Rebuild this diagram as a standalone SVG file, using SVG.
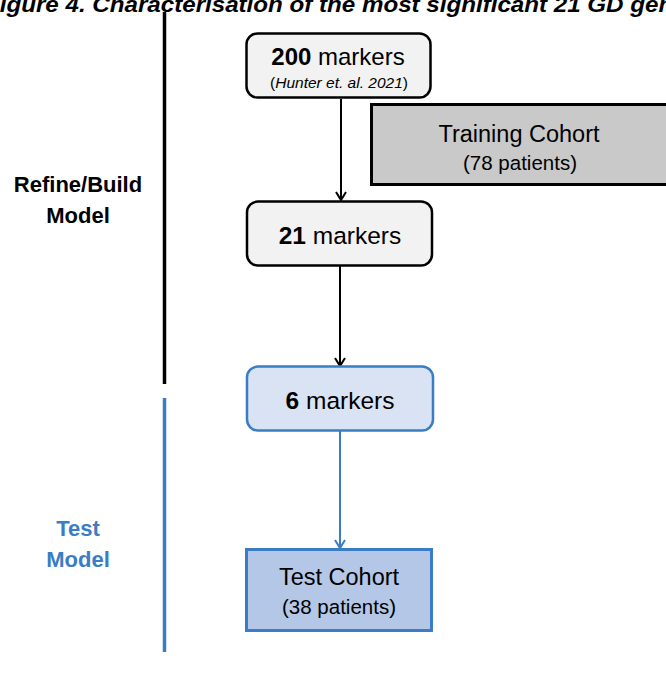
<svg xmlns="http://www.w3.org/2000/svg" width="666" height="682" viewBox="0 0 666 682">
  <style>
    .lbl { font-family: "Liberation Sans", "Open Sans", sans-serif; fill: #000; text-anchor: middle; }
    .side { font-family: "Liberation Sans", sans-serif; font-weight: bold; font-size: 22px; text-anchor: middle; }
    .grey { fill: #f2f2f2; stroke: #000; stroke-width: 2.5; }
    .blue { fill: #dae3f3; stroke: #3b7dc4; stroke-width: 2.5; }
    .conn-k { stroke: #000; stroke-width: 2; fill: none; }
    .conn-b { stroke: #3b7dc4; stroke-width: 2; fill: none; }
  </style>
  <defs>
    <marker id="arrK" markerWidth="12" markerHeight="12" refX="10" refY="6" orient="auto" markerUnits="userSpaceOnUse">
      <path d="M2,1 L10,6 L2,11" fill="none" stroke="#000" stroke-width="2"/>
    </marker>
    <marker id="arrB" markerWidth="12" markerHeight="12" refX="10" refY="6" orient="auto" markerUnits="userSpaceOnUse">
      <path d="M2,1 L10,6 L2,11" fill="none" stroke="#3b7dc4" stroke-width="2"/>
    </marker>
  </defs>
  <rect width="666" height="682" fill="#fff"/>

  <!-- caption, running past the top and side edges -->
  <text x="-15" y="12" textLength="715" lengthAdjust="spacingAndGlyphs" font-family="Liberation Sans, sans-serif" font-weight="bold" font-style="italic" font-size="22" fill="#000">Figure 4. Characterisation of the most significant 21 GD genes</text>

  <!-- phase bars -->
  <g id="phase-build">
    <line x1="164.5" y1="12" x2="164.5" y2="384" stroke="#000" stroke-width="3.5"/>
    <text class="side" x="78" y="192" fill="#000">Refine/Build</text>
    <text class="side" x="78" y="223" fill="#000">Model</text>
  </g>
  <g id="phase-test">
    <line x1="164.5" y1="398" x2="164.5" y2="652" stroke="#3b7dc4" stroke-width="3.5"/>
    <text class="side" x="78" y="536" fill="#3b7dc4">Test</text>
    <text class="side" x="78" y="567" fill="#3b7dc4">Model</text>
  </g>

  <!-- connectors -->
  <g id="connectors">
    <line class="conn-k" x1="341" y1="99" x2="341" y2="200" marker-end="url(#arrK)"/>
    <line class="conn-k" x1="340" y1="266" x2="340" y2="366" marker-end="url(#arrK)"/>
    <line class="conn-b" x1="340" y1="431" x2="340" y2="548" marker-end="url(#arrB)"/>
  </g>

  <g id="n200">
    <rect class="grey" x="246.5" y="33.5" width="184" height="64" rx="11"/>
    <text class="lbl" x="338" y="65" font-size="24"><tspan font-weight="bold">200</tspan> markers</text>
    <text class="lbl" x="339" y="88" font-size="15.5">(<tspan font-style="italic">Hunter et. al. 2021</tspan>)</text>
  </g>

  <g id="training">
    <rect x="371.5" y="104.5" width="300" height="80" fill="#c9c9c9" stroke="#000" stroke-width="3"/>
    <text class="lbl" x="519" y="142" font-size="23.5">Training Cohort</text>
    <text class="lbl" x="520" y="170" font-size="20.5">(78 patients)</text>
  </g>

  <g id="n21">
    <rect class="grey" x="247" y="201.5" width="185" height="64" rx="11"/>
    <text class="lbl" x="340" y="244" font-size="24.5"><tspan font-weight="bold">21</tspan> markers</text>
  </g>

  <g id="n6">
    <rect class="blue" x="247" y="366.5" width="186" height="64" rx="11"/>
    <text class="lbl" x="340" y="409" font-size="24.5"><tspan font-weight="bold">6</tspan> markers</text>
  </g>

  <g id="test">
    <rect x="246.5" y="549.5" width="185" height="81" fill="#b4c7e7" stroke="#3b7dc4" stroke-width="3"/>
    <text class="lbl" x="339" y="585" font-size="23.5">Test Cohort</text>
    <text class="lbl" x="339" y="614" font-size="20.5">(38 patients)</text>
  </g>
</svg>
